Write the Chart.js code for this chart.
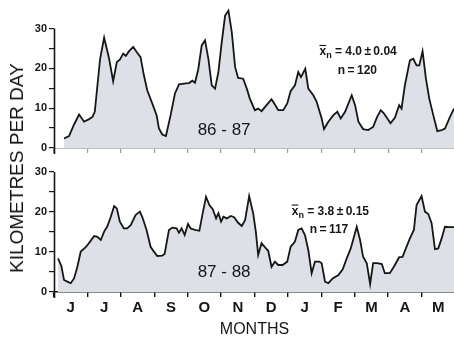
<!DOCTYPE html>
<html>
<head>
<meta charset="utf-8">
<script src="https://cdn.jsdelivr.net/npm/chart.js@4.4.0/dist/chart.umd.min.js"></script>
<style>
  html, body { margin: 0; padding: 0; background: #fff; }
  #wrap { position: relative; width: 454px; height: 341px; overflow: hidden; }
  #topChart { position: absolute; left: 0; top: 0; }
  #bottomChart { position: absolute; left: 0; top: 160px; }
  #yTitle {
    position: absolute; left: 17px; top: 168px;
    transform: translate(-50%, -50%) rotate(-90deg);
    font: 19px "Liberation Sans", Arial, sans-serif;
    color: #111; white-space: nowrap;
  }
</style>
</head>
<body>
<div id="wrap">
  <canvas id="topChart" width="455" height="160"></canvas>
  <canvas id="bottomChart" width="455" height="181"></canvas>
  <div id="yTitle">KILOMETRES PER DAY</div>
</div>
<script>
// month letters, June to May
const months = ['J', 'J', 'A', 'S', 'O', 'N', 'D', 'J', 'F', 'M', 'A', 'M'];
const yTicks = [0, 5, 10, 15, 20, 25, 30];

// season 86-87 : x = months since 1 June, y = km per day
const month8687 = [0.30, 0.45, 0.60, 0.75, 0.90, 1.05, 1.15, 1.22, 1.30, 1.38, 1.50, 1.65, 1.77, 1.88, 1.97,
  2.07, 2.15, 2.24, 2.37, 2.49, 2.59, 2.69, 2.79, 2.94, 3.07, 3.14, 3.24, 3.35, 3.49, 3.62, 3.74, 3.94,
  4.04, 4.14, 4.22, 4.32, 4.42, 4.52, 4.62, 4.72, 4.82, 4.92, 5.02, 5.12, 5.22, 5.32, 5.42, 5.51, 5.66,
  5.77, 5.86, 6.01, 6.11, 6.21, 6.36, 6.51, 6.61, 6.71, 6.86, 6.98, 7.08, 7.21, 7.31, 7.39, 7.52, 7.61,
  7.76, 7.86, 8.01, 8.08, 8.21, 8.36, 8.48, 8.58, 8.71, 8.91, 9.01, 9.11, 9.25, 9.40, 9.55, 9.67, 9.78,
  9.87, 10.07, 10.20, 10.33, 10.40, 10.50, 10.65, 10.75, 10.85, 10.93, 11.03, 11.13, 11.23, 11.35,
  11.47, 11.60, 11.70, 11.85, 11.97];
const km8687 = [2.4, 3.0, 5.9, 8.4, 6.6, 7.25, 7.8, 9.1, 15.75, 22.4, 27.7, 22.4, 16.75, 21.6, 22.2,
  23.7, 23.1, 24.25, 25.4, 23.9, 22.8, 18.25, 14.5, 11.2, 8.25, 4.9, 3.4, 3.0, 8.25, 13.7, 16.0, 16.2,
  16.3, 16.9, 16.4, 19.9, 25.75, 27.0, 22.4, 15.75, 14.9, 19.1, 26.6, 33.25, 34.5, 29.1, 20.3, 17.6, 17.4,
  14.9, 12.4, 9.5, 9.9, 9.25, 10.75, 12.25, 10.9, 9.5, 9.5, 11.2, 14.25, 15.75, 19.1, 17.8, 19.9, 14.9,
  13.25, 11.6, 7.4, 4.75, 6.6, 8.25, 9.1, 7.4, 9.1, 13.25, 10.75, 6.6, 4.75, 4.5, 5.3, 7.8, 9.5,
  8.7, 6.2, 7.6, 10.75, 9.9, 15.75, 22.0, 22.4, 20.75, 20.75, 24.25, 17.4, 12.4, 8.25,
  4.25, 4.5, 4.9, 7.8, 9.9];

// season 87-88
const month8788 = [0.12, 0.22, 0.30, 0.40, 0.50, 0.60, 0.70, 0.80, 0.95, 1.08, 1.20, 1.30, 1.40, 1.50,
  1.59, 1.70, 1.80, 1.88, 1.97, 2.09, 2.19, 2.30, 2.44, 2.57, 2.64, 2.77, 2.89, 2.99, 3.09, 3.24, 3.31,
  3.44, 3.54, 3.67, 3.74, 3.82, 3.91, 4.01, 4.09, 4.22, 4.35, 4.45, 4.55, 4.65, 4.75, 4.85, 4.92, 5.00,
  5.07, 5.17, 5.29, 5.39, 5.51, 5.62, 5.72, 5.84, 5.96, 6.04, 6.11, 6.21, 6.31, 6.41, 6.51, 6.61, 6.71,
  6.84, 6.98, 7.08, 7.21, 7.31, 7.41, 7.51, 7.61, 7.71, 7.81, 7.94, 8.01, 8.11, 8.21, 8.34, 8.51, 8.64,
  8.76, 8.88, 9.06, 9.16, 9.25, 9.36, 9.46, 9.55, 9.67, 9.81, 9.90, 10.05, 10.17, 10.33, 10.43, 10.53,
  10.65, 10.77, 10.85, 11.00, 11.10, 11.20, 11.30, 11.40, 11.50, 11.60, 11.70, 11.85, 11.97];
const km8788 = [8.4, 6.5, 3.0, 2.6, 2.2, 3.4, 6.3, 10.1, 11.2, 12.6, 14.0, 13.8, 13.0, 15.1,
  16.3, 18.8, 21.5, 20.9, 17.6, 15.9, 15.9, 16.75, 19.25, 20.1, 18.8, 15.5, 11.3, 10.1, 9.0, 9.1, 9.5,
  15.5, 16.1, 15.9, 14.8, 15.9, 14.25, 17.0, 15.9, 15.5, 15.3, 19.7, 23.8, 21.75, 20.7, 18.4, 19.7, 17.6,
  18.8, 18.4, 19.0, 18.7, 17.3, 16.5, 18.0, 24.0, 19.7, 15.1, 9.25, 12.2, 11.2, 10.3, 6.3, 7.6, 6.75,
  6.75, 7.6, 11.3, 12.6, 15.5, 15.9, 14.25, 10.5, 4.7, 7.6, 7.6, 7.2, 2.6, 2.2, 3.4, 4.25, 5.7,
  8.4, 10.9, 16.3, 13.0, 8.8, 7.2, 2.0, 7.2, 7.2, 7.0, 4.7, 4.7, 6.3, 8.7, 8.8, 10.9,
  13.4, 15.5, 21.75, 24.0, 20.1, 19.5, 17.2, 10.7, 10.9, 13.4, 16.3, 16.2, 16.2];

const seasons = ['86 - 87', '87 - 88'];
const means = ['4.0 ± 0.04', '3.8 ± 0.15'];
const counts = [120, 117];

const INK = '#161616';
const AREA = '#dde0e7';
const FONT = '"Liberation Sans", Arial, sans-serif';
const THIN = '\u2009';

// y axis line drawn only from 0 up to 30, running down through the tick row
const yAxisLine = {
  id: 'yAxisLine',
  afterDraw(chart) {
    const y = chart.scales.y;
    const ctx = chart.ctx;
    const x = Math.round(chart.chartArea.left) + 0.5;
    ctx.save();
    ctx.strokeStyle = INK;
    ctx.lineWidth = 1.6;
    ctx.beginPath();
    ctx.moveTo(x, y.getPixelForValue(30));
    ctx.lineTo(x, y.getPixelForValue(0) + 6);
    ctx.stroke();
    ctx.restore();
  }
};

// season name and mean / n notes inside each panel
const panelNotes = {
  id: 'panelNotes',
  afterDatasetsDraw(chart, args, opts) {
    const ctx = chart.ctx;
    const xs = chart.scales.x, ys = chart.scales.y;
    ctx.save();
    ctx.fillStyle = INK;

    ctx.font = '17px ' + FONT;
    ctx.textAlign = 'center';
    ctx.textBaseline = 'middle';
    ctx.fillText(opts.season, xs.getPixelForValue(opts.seasonAt[0]), ys.getPixelForValue(opts.seasonAt[1]));

    // x-bar with subscript n
    const noteFont = 'bold 12px ' + FONT;
    const subFont = 'bold 9px ' + FONT;
    const rest = ' = ' + opts.mean.split(' ').join(THIN);
    ctx.font = noteFont;
    const wx = ctx.measureText('x').width;
    const wr = ctx.measureText(rest).width;
    ctx.font = subFont;
    const wn = ctx.measureText('n').width;
    let x = xs.getPixelForValue(opts.meanAt[0]) - (wx + wn + wr) / 2;
    const base = ys.getPixelForValue(opts.meanAt[1]) + 4.5;
    ctx.textAlign = 'left';
    ctx.textBaseline = 'alphabetic';
    ctx.font = noteFont;
    ctx.fillText('x', x, base);
    ctx.fillRect(x, base - 10, wx, 1.1);
    x += wx;
    ctx.font = subFont;
    ctx.fillText('n', x, base + 3);
    x += wn;
    ctx.font = noteFont;
    ctx.fillText(rest, x, base);

    ctx.textAlign = 'center';
    ctx.textBaseline = 'middle';
    ctx.fillText('n' + THIN + '=' + THIN + opts.count, xs.getPixelForValue(opts.countAt[0]), ys.getPixelForValue(opts.countAt[1]));
    ctx.restore();
  }
};

function toPoints(xs, ys) {
  return xs.map((m, i) => ({ x: m, y: ys[i] }));
}

function buildPanel(canvasId, points, notes, isBottom) {
  return new Chart(document.getElementById(canvasId), {
    type: 'line',
    data: {
      datasets: [{
        data: points,
        borderColor: INK,
        borderWidth: 1.8,
        backgroundColor: AREA,
        fill: 'origin',
        pointRadius: 0,
        tension: 0,
        clip: false
      }]
    },
    plugins: [yAxisLine, panelNotes],
    options: {
      responsive: false,
      animation: false,
      events: [],
      layout: { padding: { top: isBottom ? 12 : 8, left: 0, right: 0, bottom: 0 } },
      plugins: {
        legend: { display: false },
        tooltip: { enabled: false },
        panelNotes: notes
      },
      scales: {
        x: {
          type: 'linear',
          min: 0,
          max: 12,
          afterBuildTicks: s => { s.ticks = months.map((m, i) => ({ value: i + 0.5 })); },
          afterFit: s => { s.height = isBottom ? 49 : 12; },
          border: { display: true, color: isBottom ? INK : '#bdbdbd', width: isBottom ? 1.4 : 1 },
          grid: {
            offset: true,
            drawOnChartArea: false,
            drawTicks: true,
            tickLength: 5,
            color: isBottom ? INK : '#9a9a9a',
            lineWidth: isBottom ? 1.4 : 1.2
          },
          ticks: {
            display: isBottom,
            autoSkip: false,
            maxRotation: 0,
            padding: 2,
            color: INK,
            font: { family: FONT, size: 15, weight: 'bold' },
            callback: (v, i) => months[i]
          },
          title: {
            display: isBottom,
            text: 'MONTHS',
            color: INK,
            padding: { top: 0, bottom: 2 },
            font: { family: FONT, size: 16 }
          }
        },
        y: {
          min: 0,
          max: isBottom ? 30 : 35,
          afterBuildTicks: s => { s.ticks = yTicks.map(v => ({ value: v })); },
          afterFit: s => { s.width = 54; },
          border: { display: false },
          grid: {
            drawOnChartArea: false,
            drawTicks: true,
            tickLength: 5,
            color: INK,
            lineWidth: 1.2
          },
          ticks: {
            padding: 2,
            color: INK,
            font: { family: FONT, size: 11, weight: 'bold' },
            callback: v => (v % 10 === 0 ? v : '')
          }
        }
      }
    }
  });
}

buildPanel('topChart', toPoints(month8687, km8687), {
  season: seasons[0], seasonAt: [5.09, 4.5],
  mean: means[0], meanAt: [9.1, 24.5],
  count: counts[0], countAt: [9.08, 19.5]
}, false);

buildPanel('bottomChart', toPoints(month8788, km8788), {
  season: seasons[1], seasonAt: [5.09, 5],
  mean: means[1], meanAt: [8.27, 20.5],
  count: counts[1], countAt: [8.23, 15.5]
}, true);
</script>
</body>
</html>
